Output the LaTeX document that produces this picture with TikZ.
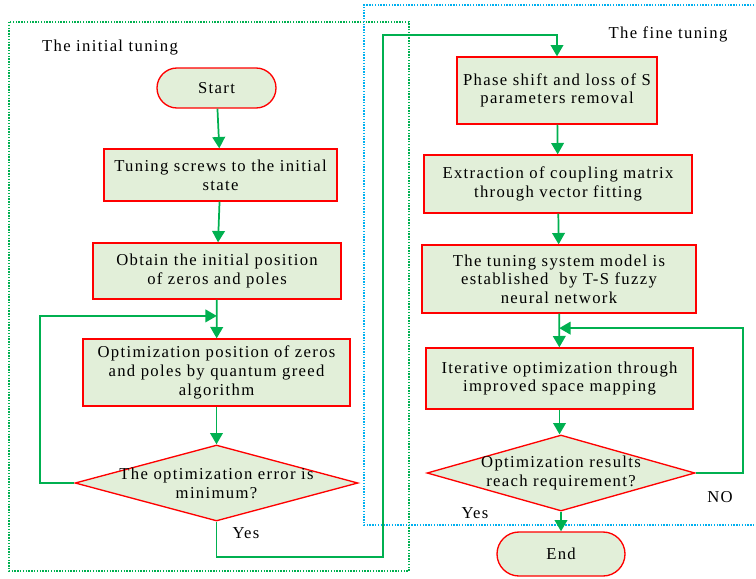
\documentclass[tikz,border=0pt]{standalone}
\usepackage{fontspec}
\setmainfont{Liberation Serif}[LetterSpace=8]
\usetikzlibrary{shapes.geometric,shapes.misc,arrows.meta,calc}

\definecolor{boxfill}{RGB}{226,239,217}
\definecolor{boxline}{RGB}{255,0,0}
\definecolor{flowgreen}{RGB}{0,176,80}
\definecolor{frameblue}{RGB}{0,176,240}

\begin{document}
\begin{tikzpicture}[x=0.75pt,y=-0.75pt,
	every node/.style={font=\fontsize{12.5pt}{14pt}\selectfont},
	process/.style={rectangle, draw=boxline, fill=boxfill, line width=1pt, align=center, inner sep=0pt},
	terminal/.style={rounded rectangle, draw=boxline, fill=boxfill, line width=1pt, inner sep=0pt},
	decision/.style={diamond, draw=boxline, fill=boxfill, line width=1pt, inner sep=0pt},
	flow/.style={-{Triangle[width=9.5pt,length=8.5pt]}, draw=flowgreen, line width=1.3pt},
	frame/.style={densely dotted, line width=1.1pt}]
	\useasboundingbox (0,0) rectangle (756,578);
	
	% frames
	\draw [frame, draw=flowgreen] (9,22) rectangle (409,571);
	\draw [frame, draw=frameblue] (757,5) -- (364,5) -- (364,525) -- (757,525);
	\node (initial) at (110,48) {The initial tuning};
	\node (fine) at (668,34) {The fine tuning};
	
	% left column
	\node [terminal, minimum width=119*0.75pt, minimum height=40*0.75pt] (start) at (216.5,88) {Start};
	\node [process, minimum width=233*0.75pt, minimum height=52*0.75pt] (screws) at (220.5,175) {Tuning screws to the initial\\state};
	\node [process, minimum width=248*0.75pt, minimum height=56*0.75pt] (obtain) at (217,271) {Obtain the initial position\\of zeros and poles};
	\node [process, minimum width=267*0.75pt, minimum height=67*0.75pt] (quantum) at (216.5,372.5) {Optimization position of zeros\\and poles by quantum greed\\algorithm};
	\node [decision, minimum width=283*0.75pt, minimum height=76*0.75pt] (minerr) at (216.5,483) {};
	\node [align=center] (minerrtxt) at (minerr) {The optimization error is\\minimum?};
	
	% right column
	\node [process, minimum width=200*0.75pt, minimum height=67*0.75pt] (phase) at (557,90.5) {Phase shift and loss of S\\parameters removal};
	\node [process, minimum width=268*0.75pt, minimum height=58*0.75pt] (extract) at (558,184) {Extraction of coupling matrix\\through vector fitting};
	\node [process, minimum width=274*0.75pt, minimum height=68*0.75pt] (model) at (559,279) {The tuning system model is\\established\ \ by T-S fuzzy\\neural network};
	\node [process, minimum width=267*0.75pt, minimum height=61*0.75pt] (iterate) at (559.5,378.5) {Iterative optimization through\\improved space mapping};
	\node [decision, minimum width=268*0.75pt, minimum height=76*0.75pt] (reach) at (561,473) {};
	\node [align=center] (reachtxt) at (reach) {Optimization results\\reach requirement?};
	\node [terminal, minimum width=128*0.75pt, minimum height=44*0.75pt] (end) at (561,554) {End};
	
	% lines
	\draw [flow] (start) -- (screws);
	\draw [flow] (screws) -- (obtain);
	\draw [flow] (obtain) -- (quantum);
	\draw [flow] (quantum) -- (minerr);
	\coordinate (loopa) at ($(obtain.south)!0.42!(quantum.north)$);
	\draw [flow] (minerr.west) -- ++(-34,0) |- (loopa);
	\draw [flow] (minerr.south) -- ++(0,35) -| (383,35) -| (phase.north);
	\node (yesa) at (246,533) {Yes};
	
	\draw [flow] (phase) -- (extract);
	\draw [flow] (extract) -- (model);
	\draw [flow] (model) -- (iterate);
	\draw [flow] (iterate.south) -- (iterate.south |- reach.north);
	\draw [flow] (reach.south) -- (reach.south |- end.north);
	\coordinate (loopb) at ($(model.south)!0.43!(iterate.north)$);
	\draw [flow] (reach.east) -- ++(47,0) |- (loopb);
	\node (no) at (720,497) {NO};
	\node (yesb) at (475,513) {Yes};
\end{tikzpicture}
\end{document}
